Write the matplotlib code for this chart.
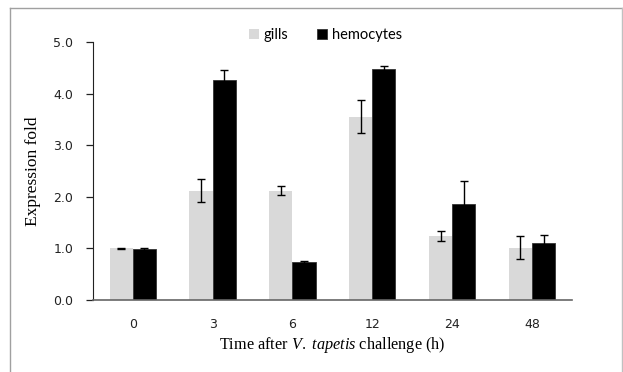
import numpy as np
import matplotlib
matplotlib.use("Agg")
import matplotlib.pyplot as plt
from matplotlib.lines import Line2D

# data
times = ["0", "3", "6", "12", "24", "48"]
gills = [1.00, 2.12, 2.12, 3.55, 1.24, 1.01]
gills_err = [0.01, 0.22, 0.09, 0.32, 0.09, 0.22]
hemocytes = [0.99, 4.27, 0.74, 4.47, 1.85, 1.11]
hemocytes_err = [0.02, 0.18, 0.02, 0.07, 0.46, 0.15]

plt.rcParams["mathtext.fontset"] = "custom"
plt.rcParams["mathtext.it"] = "Liberation Serif:italic"
plt.rcParams["mathtext.rm"] = "Liberation Serif"

fig = plt.figure(figsize=(6.23, 3.72), dpi=100)
ax = fig.add_axes([0.149, 0.194, 0.769, 0.693])

x = np.arange(len(times))
w = 0.29
err_kw = dict(ecolor="black", elinewidth=1.0, capsize=3, capthick=1.0)
ax.bar(x - w / 2, gills, w, yerr=gills_err, color="#d9d9d9",
       error_kw=err_kw, label="gills")
ax.bar(x + w / 2, hemocytes, w, yerr=hemocytes_err, color="black",
       edgecolor="#333333", linewidth=0.6, error_kw=err_kw, label="hemocytes")

ax.set_xlim(-0.5, len(times) - 0.5)
ax.set_ylim(0, 5)
ax.set_yticks(np.arange(0, 5.1, 1.0))
ax.set_yticklabels([f"{v:.1f}" for v in np.arange(0, 5.1, 1.0)])
ax.set_xticks(x)
ax.set_xticklabels(times)

for s in ["top", "right"]:
    ax.spines[s].set_visible(False)
ax.spines["left"].set_color("#222222")
ax.spines["bottom"].set_color("#666666")
ax.spines["bottom"].set_linewidth(1.2)
ax.tick_params(axis="y", direction="out", length=5, width=0.9,
               labelsize=9, pad=9, colors="#222222")
ax.tick_params(axis="x", length=0, labelsize=9, pad=13, colors="#222222")

ax.set_ylabel("Expression fold", family="Liberation Serif", fontsize=12.5, labelpad=9)
ax.set_xlabel("Time after $\\mathit{V.}$ $\\mathit{tapetis}$ challenge (h)",
              family="Liberation Serif", fontsize=11.7, labelpad=3)

fig.legend(loc="center", bbox_to_anchor=(0.522, 0.906), ncol=2, frameon=False,
           prop={"family": "Lato", "size": 10.5}, handlelength=0.7,
           handleheight=0.7, handletextpad=0.3, columnspacing=2.0)

# thin gray frame around the picture (left, top, right)
fig.add_artist(Line2D([10 / 623, 10 / 623], [0, 1 - 8 / 372],
                      transform=fig.transFigure, color="#a0a0a0", lw=1.0))
fig.add_artist(Line2D([10 / 623, 621.5 / 623], [1 - 8 / 372, 1 - 8 / 372],
                      transform=fig.transFigure, color="#a0a0a0", lw=1.0))
fig.add_artist(Line2D([621.5 / 623, 621.5 / 623], [0, 1 - 8 / 372],
                      transform=fig.transFigure, color="#c0c0c0", lw=1.0))

fig.savefig("out.png", dpi=100)
